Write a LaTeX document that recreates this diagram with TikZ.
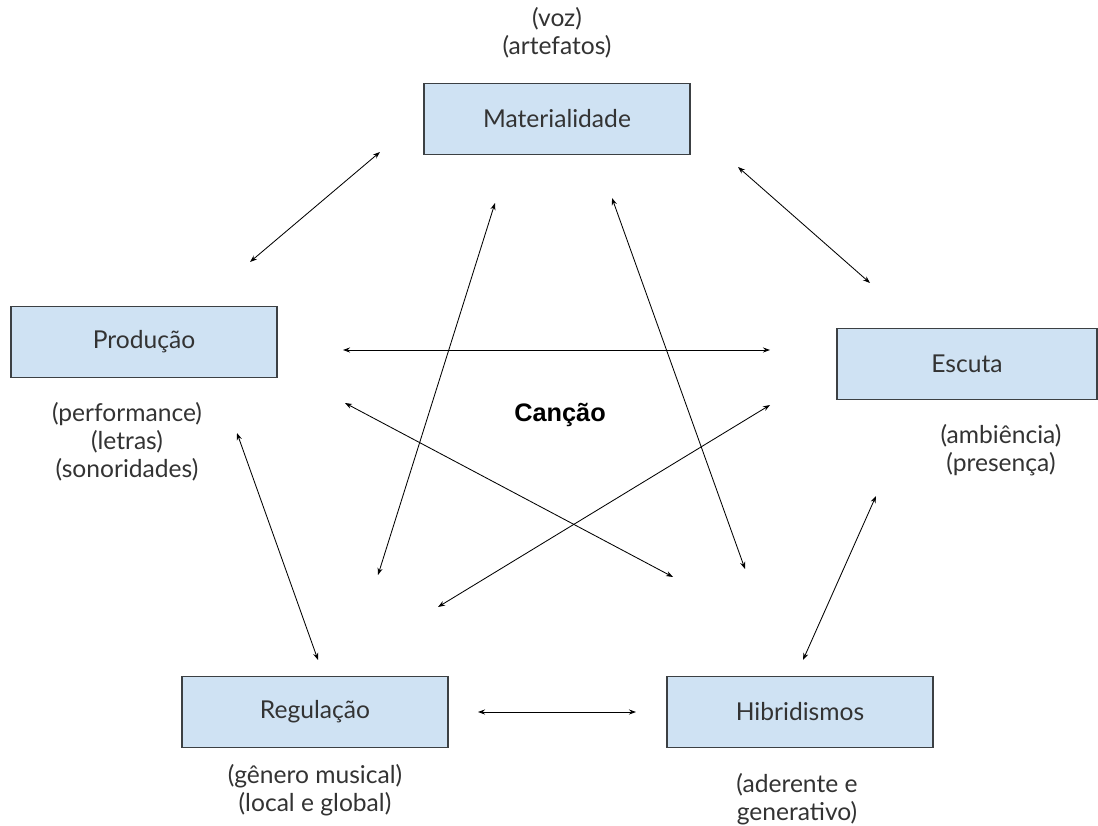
\documentclass[tikz,border=0pt]{standalone}
\usepackage{fontspec}
\setmainfont{Lato}
\newfontfamily\negrito{Liberation Sans}
\usetikzlibrary{arrows.meta}
\definecolor{caixaazul}{HTML}{CFE2F3}
\definecolor{bordacaixa}{HTML}{3C4043}
\definecolor{textocinza}{HTML}{333333}

\begin{document}
\begin{tikzpicture}[x=0.025cm, y=-0.025cm,
  every node/.style={font=\fontsize{17.5}{19.8}\selectfont, text=textocinza},
  campo/.style={draw=bordacaixa, line width=0.8pt, fill=caixaazul, minimum width=6.65cm, minimum height=1.78cm},
  nota/.style={align=center},
  ligacao/.style={{Stealth[length=5pt,width=3.6pt]}-{Stealth[length=5pt,width=3.6pt]}, line width=0.6pt}]
\useasboundingbox (0,0) rectangle (1098,826);

% campos
\node[campo] (mat) at (557,119) {Materialidade};
\node[campo] (prod) at (144,342) {Produção};
\node[campo, minimum width=6.5cm] (esc) at (967,364) {Escuta};
\node[campo] (reg) at (315,712) {Regulação};
\node[campo] (hib) at (800,712) {Hibridismos};

% notas
\node[nota] (matnota) at (557,33) {(voz)\\(artefatos)};
\node[nota] (prodnota) at (127,442) {(performance)\\(letras)\\(sonoridades)};
\node[nota] (escnota) at (1001,450) {(ambiência)\\(presença)};
\node[nota] (regnota) at (315,790) {(gênero musical)\\(local e global)};
\node[nota] (hibnota) at (797,799) {(aderente e\\generativo)};

\node[font=\negrito\bfseries\fontsize{18}{20}\selectfont, text=black] (cancao) at (560,415) {Canção};

% pontas das setas
\coordinate (pm1) at (250,262);  \coordinate (pm2) at (380,152);
\coordinate (me1) at (738,167);  \coordinate (me2) at (870,283);
\coordinate (pe1) at (343,350);  \coordinate (pe2) at (770,350);
\coordinate (ph1) at (345,403);  \coordinate (ph2) at (673,577);
\coordinate (mr1) at (495,203);  \coordinate (mr2) at (378,575);
\coordinate (mh1) at (612,198);  \coordinate (mh2) at (745,569);
\coordinate (er1) at (770,405);  \coordinate (er2) at (438,607);
\coordinate (pr1) at (237,433);  \coordinate (pr2) at (318,660);
\coordinate (eh1) at (876,496);  \coordinate (eh2) at (803,660);
\coordinate (rh1) at (478,712);  \coordinate (rh2) at (636,712);

\draw[ligacao] (pm1) -- (pm2);
\draw[ligacao] (me1) -- (me2);
\draw[ligacao] (pe1) -- (pe2);
\draw[ligacao] (ph1) -- (ph2);
\draw[ligacao] (mr1) -- (mr2);
\draw[ligacao] (mh1) -- (mh2);
\draw[ligacao] (er1) -- (er2);
\draw[ligacao] (pr1) -- (pr2);
\draw[ligacao] (eh1) -- (eh2);
\draw[ligacao] (rh1) -- (rh2);

\end{tikzpicture}
\end{document}
